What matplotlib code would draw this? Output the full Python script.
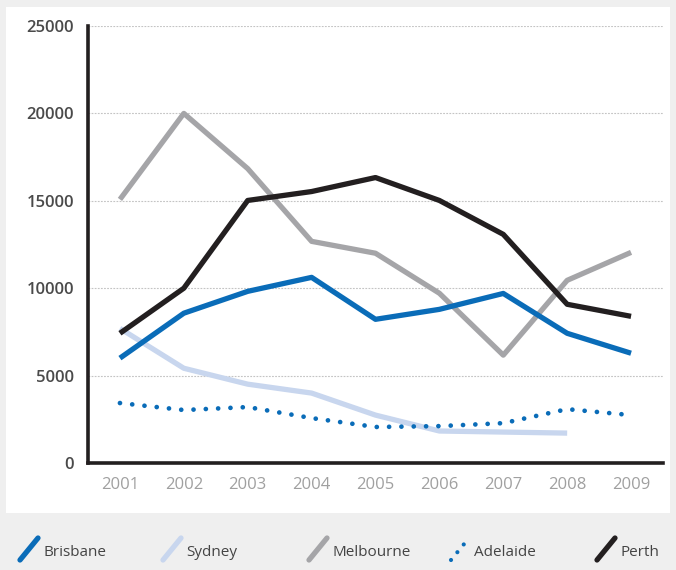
import matplotlib.pyplot as plt
from matplotlib.patches import Rectangle
from matplotlib.lines import Line2D

years = [2001, 2002, 2003, 2004, 2005, 2006, 2007, 2008, 2009]
brisbane = [6000, 8570, 9820, 10620, 8220, 8790, 9700, 7420, 6280]
sydney = [7700, 5420, 4510, 4000, 2740, 1830, 1770, 1710]
melbourne = [15080, 20000, 16840, 12680, 12000, 9710, 6170, 10450, 12050]
adelaide = [3430, 3030, 3200, 2570, 2060, 2110, 2280, 3080, 2740]
perth = [7420, 10000, 15020, 15530, 16330, 15020, 13080, 9080, 8390]
yticks = [0, 5000, 10000, 15000, 20000, 25000]

c_bris = '#0a6cb8'
c_syd = '#c8d6ee'
c_mel = '#a5a5a8'
c_perth = '#231f20'

plt.rcParams['font.family'] = ['Open Sans', 'DejaVu Sans']

fig = plt.figure(figsize=(6.76, 5.70), dpi=100, facecolor='#efefef')
# white panel behind the chart
fig.add_artist(Rectangle((6/676, 1-513/570), 664/676, 506/570,
                         transform=fig.transFigure, facecolor='white',
                         edgecolor='none', zorder=0))

ax = fig.add_axes([88/676, 107/570, 575/676, 437/570])
ax.set_facecolor('none')

lw = 3.8
ax.plot(years[:len(sydney)], sydney, c=c_syd, lw=lw, solid_capstyle='butt', zorder=3)
ax.plot(years, melbourne, c=c_mel, lw=lw, solid_capstyle='butt', zorder=4)
ax.plot(years, perth, c=c_perth, lw=lw, solid_capstyle='butt', zorder=5)
ax.plot(years, brisbane, c=c_bris, lw=lw, solid_capstyle='butt', zorder=6)
ax.plot(years, adelaide, c=c_bris, lw=3.4, ls=(0, (0.01, 2.6)),
        dash_capstyle='round', zorder=6)

ax.set_xlim(2000.5, 2009.5)
ax.set_ylim(0, 25000)
ax.set_xticks(years)
ax.set_xticklabels([str(y) for y in years])
ax.set_yticks(yticks)
ax.set_yticklabels([str(v) for v in yticks])
ax.tick_params(length=0, pad=10)
ax.tick_params(axis='x', labelsize=12, labelcolor='#a0a0a0')
ax.tick_params(axis='y', labelsize=12, labelcolor='#4a4a4a')
for lab in ax.get_yticklabels():
    lab.set_fontweight('semibold')

for v in yticks[1:]:
    ax.axhline(v, color='#c4c4c4', lw=0.8, ls=(0, (1.6, 1.2)), zorder=1)

for s in ['top', 'right']:
    ax.spines[s].set_visible(False)
for s in ['left', 'bottom']:
    ax.spines[s].set_linewidth(2.6)
    ax.spines[s].set_color('#231f20')

# legend with diagonal handles
names = ['Brisbane', 'Sydney', 'Melbourne', 'Adelaide', 'Perth']
colors = [c_bris, c_syd, c_mel, c_bris, c_perth]
xs = [20, 163, 309, 451, 597]
for name, col, x0 in zip(names, colors, xs):
    x1 = x0 + 18
    y0, y1 = 1 - 560/570, 1 - 538/570
    if name == 'Adelaide':
        ln = Line2D([x0/676, x1/676], [y0, y1], transform=fig.transFigure,
                    color=col, lw=3, ls=(0, (0.01, 2.4)), dash_capstyle='round')
    else:
        ln = Line2D([x0/676, x1/676], [y0, y1], transform=fig.transFigure,
                    color=col, lw=3.8, solid_capstyle='round')
    fig.add_artist(ln)
    fig.text((x1 + 5)/676, 1 - 552/570, name, fontsize=11, color='#444444',
             va='center', ha='left')

fig.savefig('out.png', dpi=100, facecolor=fig.get_facecolor())
